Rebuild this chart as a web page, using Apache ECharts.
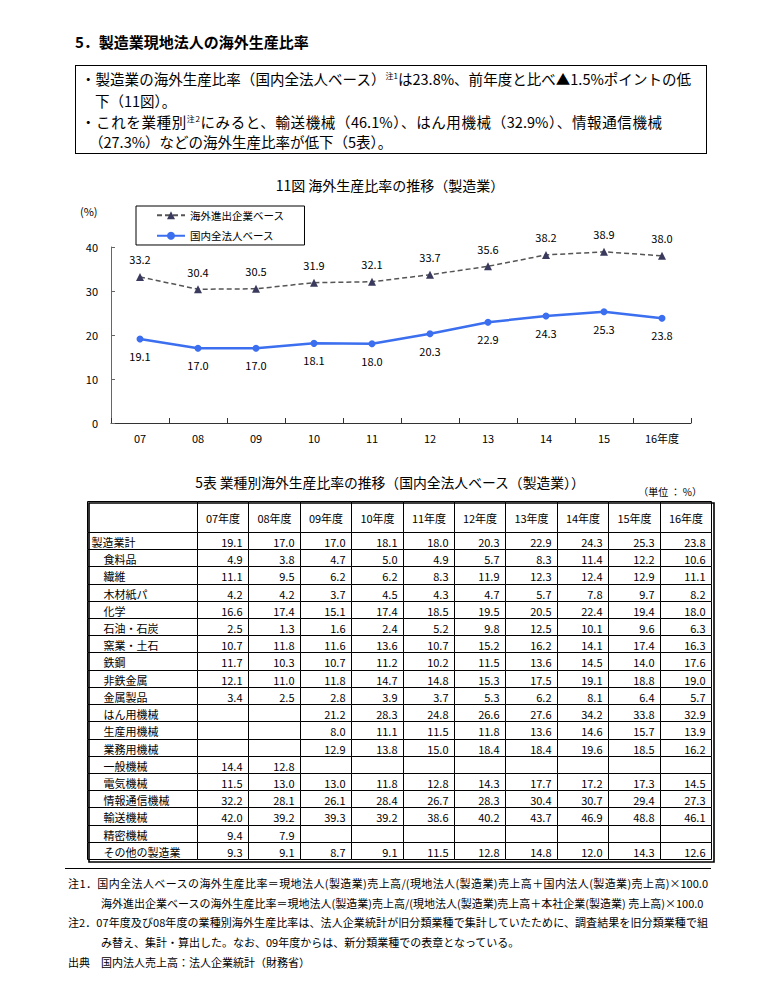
<!DOCTYPE html>
<html lang="ja">
<head>
<meta charset="utf-8">
<title>製造業現地法人の海外生産比率</title>
<script src="https://cdn.jsdelivr.net/npm/echarts@6/dist/echarts.min.js"></script>
<style>
  html, body { margin: 0; padding: 0; background: #fff; }
  body { width: 780px; height: 990px; position: relative; overflow: hidden;
         font-family: "Noto Sans CJK JP", "Noto Sans", sans-serif; color: #000; }
  #chart { position: absolute; left: 0; top: 0; width: 780px; height: 990px; }
  .t { position: absolute; white-space: nowrap; z-index: 2; }
  .bl { font-size: 14.5px; line-height: 18px; }
  .bl sup { font-size: 8px; vertical-align: 6px; line-height: 0; }
  .nt { font-size: 11px; line-height: 16px; }
  .just { text-align: justify; text-align-last: justify; }
</style>
</head>
<body>
<div id="chart"></div>

<div class="t" style="left:75px;top:32px;font-size:15px;font-weight:bold;line-height:20px;">5．製造業現地法人の海外生産比率</div>
<div class="t" style="left:75px;top:65px;width:630px;height:87px;border:1px solid #000;z-index:1;"></div>
<div class="t bl just" style="left:81px;top:70px;width:610px;">・製造業の海外生産比率（国内全法人ベース）<sup>注1</sup>は23.8%、前年度と比べ▲1.5%ポイントの低</div>
<div class="t bl" style="left:95px;top:92px;">下（11図）。</div>
<div class="t bl just" style="left:81px;top:113px;width:581px;">・これを業種別<sup>注2</sup>にみると、輸送機械（46.1%）、はん用機械（32.9%）、情報通信機械</div>
<div class="t bl" style="left:89px;top:133px;">（27.3%）などの海外生産比率が低下（5表）。</div>

<div class="t" style="left:65px;top:868px;width:646px;height:0;border-top:1px solid #000;"></div>
<div class="t nt just" style="left:68px;top:875px;width:640px;">注1．国内全法人ベースの海外生産比率＝現地法人(製造業)売上高/(現地法人(製造業)売上高＋国内法人(製造業)売上高)×100.0</div>
<div class="t nt" style="left:101px;top:895px;">海外進出企業ベースの海外生産比率＝現地法人(製造業)売上高/(現地法人(製造業)売上高＋本社企業(製造業) 売上高)×100.0</div>
<div class="t nt just" style="left:68px;top:914px;width:640px;">注2．07年度及び08年度の業種別海外生産比率は、法人企業統計が旧分類業種で集計していたために、調査結果を旧分類業種で組</div>
<div class="t nt" style="left:101px;top:934px;">み替え、集計・算出した。なお、09年度からは、新分類業種での表章となっている。</div>
<div class="t nt" style="left:68px;top:954px;">出典　国内法人売上高：法人企業統計（財務省）</div>

<script>
// ---- 11図 data ----
const years = ['07', '08', '09', '10', '11', '12', '13', '14', '15', '16年度'];
const seriesNames = ['海外進出企業ベース', '国内全法人ベース'];
const overseasBase = [33.2, 30.4, 30.5, 31.9, 32.1, 33.7, 35.6, 38.2, 38.9, 38.0];
const domesticBase = [19.1, 17.0, 17.0, 18.1, 18.0, 20.3, 22.9, 24.3, 25.3, 23.8];
const yTicks = { min: 0, max: 40, interval: 10 };

// ---- 5表 data ----
const tableYears = ['07年度', '08年度', '09年度', '10年度', '11年度', '12年度', '13年度', '14年度', '15年度', '16年度'];
const industries = ['製造業計', '食料品', '繊維', '木材紙パ', '化学', '石油・石炭', '窯業・土石', '鉄鋼', '非鉄金属', '金属製品',
  'はん用機械', '生産用機械', '業務用機械', '一般機械', '電気機械', '情報通信機械', '輸送機械', '精密機械', 'その他の製造業'];
const rowTotal          = [19.1, 17.0, 17.0, 18.1, 18.0, 20.3, 22.9, 24.3, 25.3, 23.8];
const rowFood           = [4.9, 3.8, 4.7, 5.0, 4.9, 5.7, 8.3, 11.4, 12.2, 10.6];
const rowTextile        = [11.1, 9.5, 6.2, 6.2, 8.3, 11.9, 12.3, 12.4, 12.9, 11.1];
const rowPulp           = [4.2, 4.2, 3.7, 4.5, 4.3, 4.7, 5.7, 7.8, 9.7, 8.2];
const rowChemical       = [16.6, 17.4, 15.1, 17.4, 18.5, 19.5, 20.5, 22.4, 19.4, 18.0];
const rowPetroleum      = [2.5, 1.3, 1.6, 2.4, 5.2, 9.8, 12.5, 10.1, 9.6, 6.3];
const rowCeramic        = [10.7, 11.8, 11.6, 13.6, 10.7, 15.2, 16.2, 14.1, 17.4, 16.3];
const rowSteel          = [11.7, 10.3, 10.7, 11.2, 10.2, 11.5, 13.6, 14.5, 14.0, 17.6];
const rowNonferrous     = [12.1, 11.0, 11.8, 14.7, 14.8, 15.3, 17.5, 19.1, 18.8, 19.0];
const rowMetalProducts  = [3.4, 2.5, 2.8, 3.9, 3.7, 5.3, 6.2, 8.1, 6.4, 5.7];
const rowGeneralPurpose = [null, null, 21.2, 28.3, 24.8, 26.6, 27.6, 34.2, 33.8, 32.9];
const rowProduction     = [null, null, 8.0, 11.1, 11.5, 11.8, 13.6, 14.6, 15.7, 13.9];
const rowBusiness       = [null, null, 12.9, 13.8, 15.0, 18.4, 18.4, 19.6, 18.5, 16.2];
const rowGeneralMach    = [14.4, 12.8, null, null, null, null, null, null, null, null];
const rowElectrical     = [11.5, 13.0, 13.0, 11.8, 12.8, 14.3, 17.7, 17.2, 17.3, 14.5];
const rowICT            = [32.2, 28.1, 26.1, 28.4, 26.7, 28.3, 30.4, 30.7, 29.4, 27.3];
const rowTransport      = [42.0, 39.2, 39.3, 39.2, 38.6, 40.2, 43.7, 46.9, 48.8, 46.1];
const rowPrecision      = [9.4, 7.9, null, null, null, null, null, null, null, null];
const rowOther          = [9.3, 9.1, 8.7, 9.1, 11.5, 12.8, 14.8, 12.0, 14.3, 12.6];

const tableRows = [rowTotal, rowFood, rowTextile, rowPulp, rowChemical, rowPetroleum, rowCeramic, rowSteel,
  rowNonferrous, rowMetalProducts, rowGeneralPurpose, rowProduction, rowBusiness, rowGeneralMach,
  rowElectrical, rowICT, rowTransport, rowPrecision, rowOther];

const FONT = '"Noto Sans CJK JP", "Noto Sans", sans-serif';
const BLUE = '#3b6ff0';

// cell drawing helper for table custom series
function cell(api, text, align, pad) {
  const c = api.coord([api.value(0), api.value(1)]);
  const s = api.size([1, 1]);
  const x0 = Math.round(c[0] - s[0] / 2) + 0.5;
  const y0 = Math.round(c[1] - s[1] / 2) + 0.5;
  const x1 = Math.round(c[0] + s[0] / 2) + 0.5;
  const y1 = Math.round(c[1] + s[1] / 2) + 0.5;
  let tx = (x0 + x1) / 2;
  if (align === 'right') tx = x1 - pad;
  if (align === 'left') tx = x0 + pad;
  return {
    type: 'group',
    children: [
      { type: 'rect', shape: { x: x0, y: y0, width: x1 - x0, height: y1 - y0 },
        style: { fill: '#fff', stroke: '#000', lineWidth: 1 } },
      { type: 'text', style: { text: text, x: tx, y: (y0 + y1) / 2 + 0.5, align: align, verticalAlign: 'middle',
        font: '11px ' + FONT, fill: '#000' } }
    ]
  };
}

const bodyData = [];
tableRows.forEach((row, r) => row.forEach((v, c) => bodyData.push([c, r])));
const labelData = industries.map((n, r) => [0, r]);
const headData = tableYears.map((y, c) => [c, 0]);

const chart = echarts.init(document.getElementById('chart'), null, { renderer: 'svg' });
chart.setOption({
  animation: false,
  backgroundColor: 'transparent',
  textStyle: { fontFamily: FONT },
  title: [
    { text: '11図 海外生産比率の推移（製造業）', left: 385, top: 173, textAlign: 'center',
      textStyle: { fontSize: 14, fontWeight: 'normal', color: '#000', fontFamily: FONT } },
    { text: '(%)', left: 80, top: 205, padding: 0,
      textStyle: { fontSize: 11, fontWeight: 'normal', color: '#000', fontFamily: FONT } },
    { text: '5表 業種別海外生産比率の推移（国内全法人ベース（製造業））', left: 385, top: 470, textAlign: 'center',
      textStyle: { fontSize: 13.8, fontWeight: 'normal', color: '#000', fontFamily: FONT } },
    { text: '（単位 ： %）', right: 78, top: 486, padding: 0,
      textStyle: { fontSize: 10, fontWeight: 'normal', color: '#000', fontFamily: FONT } }
  ],
  legend: {
    orient: 'vertical', left: 136, top: 206,
    data: seriesNames,
    borderColor: '#000', borderWidth: 1, borderRadius: 0,
    padding: [4, 20, 4, 20], itemGap: 10, itemWidth: 28, itemHeight: 10,
    textStyle: { fontSize: 10.5, color: '#000', fontFamily: FONT }
  },
  grid: [
    { left: 111, top: 247, width: 580, height: 176 },
    { left: 87, top: 501, width: 110, height: 31 },
    { left: 197, top: 501, width: 514, height: 31 },
    { left: 87, top: 532, width: 110, height: 327 },
    { left: 197, top: 532, width: 514, height: 327 }
  ],
  xAxis: [
    { type: 'category', gridIndex: 0, data: years, boundaryGap: true,
      axisLine: { lineStyle: { color: '#333', width: 1 } },
      axisTick: { show: true, inside: true, length: 5, lineStyle: { color: '#333' } },
      axisLabel: { color: '#000', fontSize: 11, margin: 9, fontFamily: FONT } },
    { type: 'category', gridIndex: 1, data: [''], show: false },
    { type: 'category', gridIndex: 2, data: tableYears, show: false },
    { type: 'category', gridIndex: 3, data: ['業種'], show: false },
    { type: 'category', gridIndex: 4, data: tableYears, show: false }
  ],
  yAxis: [
    { type: 'value', gridIndex: 0, min: yTicks.min, max: yTicks.max, interval: yTicks.interval,
      axisLine: { show: true, lineStyle: { color: '#666', width: 1 } },
      axisTick: { show: true, inside: true, length: 4, lineStyle: { color: '#666' } },
      splitLine: { show: false },
      axisLabel: { color: '#000', fontSize: 11, margin: 13, fontFamily: FONT } },
    { type: 'category', gridIndex: 1, data: [''], show: false },
    { type: 'category', gridIndex: 2, data: [''], show: false },
    { type: 'category', gridIndex: 3, data: industries, inverse: true, show: false },
    { type: 'category', gridIndex: 4, data: industries, inverse: true, show: false }
  ],
  series: [
    {
      name: seriesNames[0], type: 'line', xAxisIndex: 0, yAxisIndex: 0, data: overseasBase,
      symbol: 'triangle', symbolSize: 8,
      itemStyle: { color: '#3a3a5e' },
      lineStyle: { color: '#555', width: 1.5, type: [5, 3] },
      label: { show: true, position: 'top', distance: 8, color: '#000', fontSize: 11, fontFamily: FONT,
        formatter: p => p.value.toFixed(1) }
    },
    {
      name: seriesNames[1], type: 'line', xAxisIndex: 0, yAxisIndex: 0, data: domesticBase,
      symbol: 'circle', symbolSize: 7,
      itemStyle: { color: BLUE },
      lineStyle: { color: BLUE, width: 2.5 },
      label: { show: true, position: 'bottom', distance: 8, color: '#000', fontSize: 11, fontFamily: FONT,
        formatter: p => p.value.toFixed(1) }
    },
    { // header label cell (empty)
      type: 'custom', xAxisIndex: 1, yAxisIndex: 1, data: [[0, 0]], silent: true, clip: false,
      renderItem: (params, api) => cell(api, '', 'center', 0)
    },
    { // header year cells
      type: 'custom', xAxisIndex: 2, yAxisIndex: 2, data: headData, silent: true, clip: false,
      renderItem: (params, api) => cell(api, tableYears[api.value(0)], 'center', 0)
    },
    { // industry labels
      type: 'custom', xAxisIndex: 3, yAxisIndex: 3, data: labelData, silent: true, clip: false,
      renderItem: (params, api) => {
        const r = api.value(1);
        return cell(api, industries[r], 'left', r === 0 ? 4 : 16);
      }
    },
    { // values
      type: 'custom', xAxisIndex: 4, yAxisIndex: 4, data: bodyData, silent: true, clip: false,
      renderItem: (params, api) => {
        const c = api.value(0), r = api.value(1);
        const v = tableRows[r][c];
        return cell(api, v == null ? '' : v.toFixed(1), 'right', 6);
      }
    }
  ],
  graphic: [
    { type: 'rect', left: 86.5, top: 500.5, z: 100, silent: true,
      shape: { width: 625, height: 359 },
      style: { fill: 'none', stroke: '#000', lineWidth: 1.6 } }
  ]
});
</script>
</body>
</html>
